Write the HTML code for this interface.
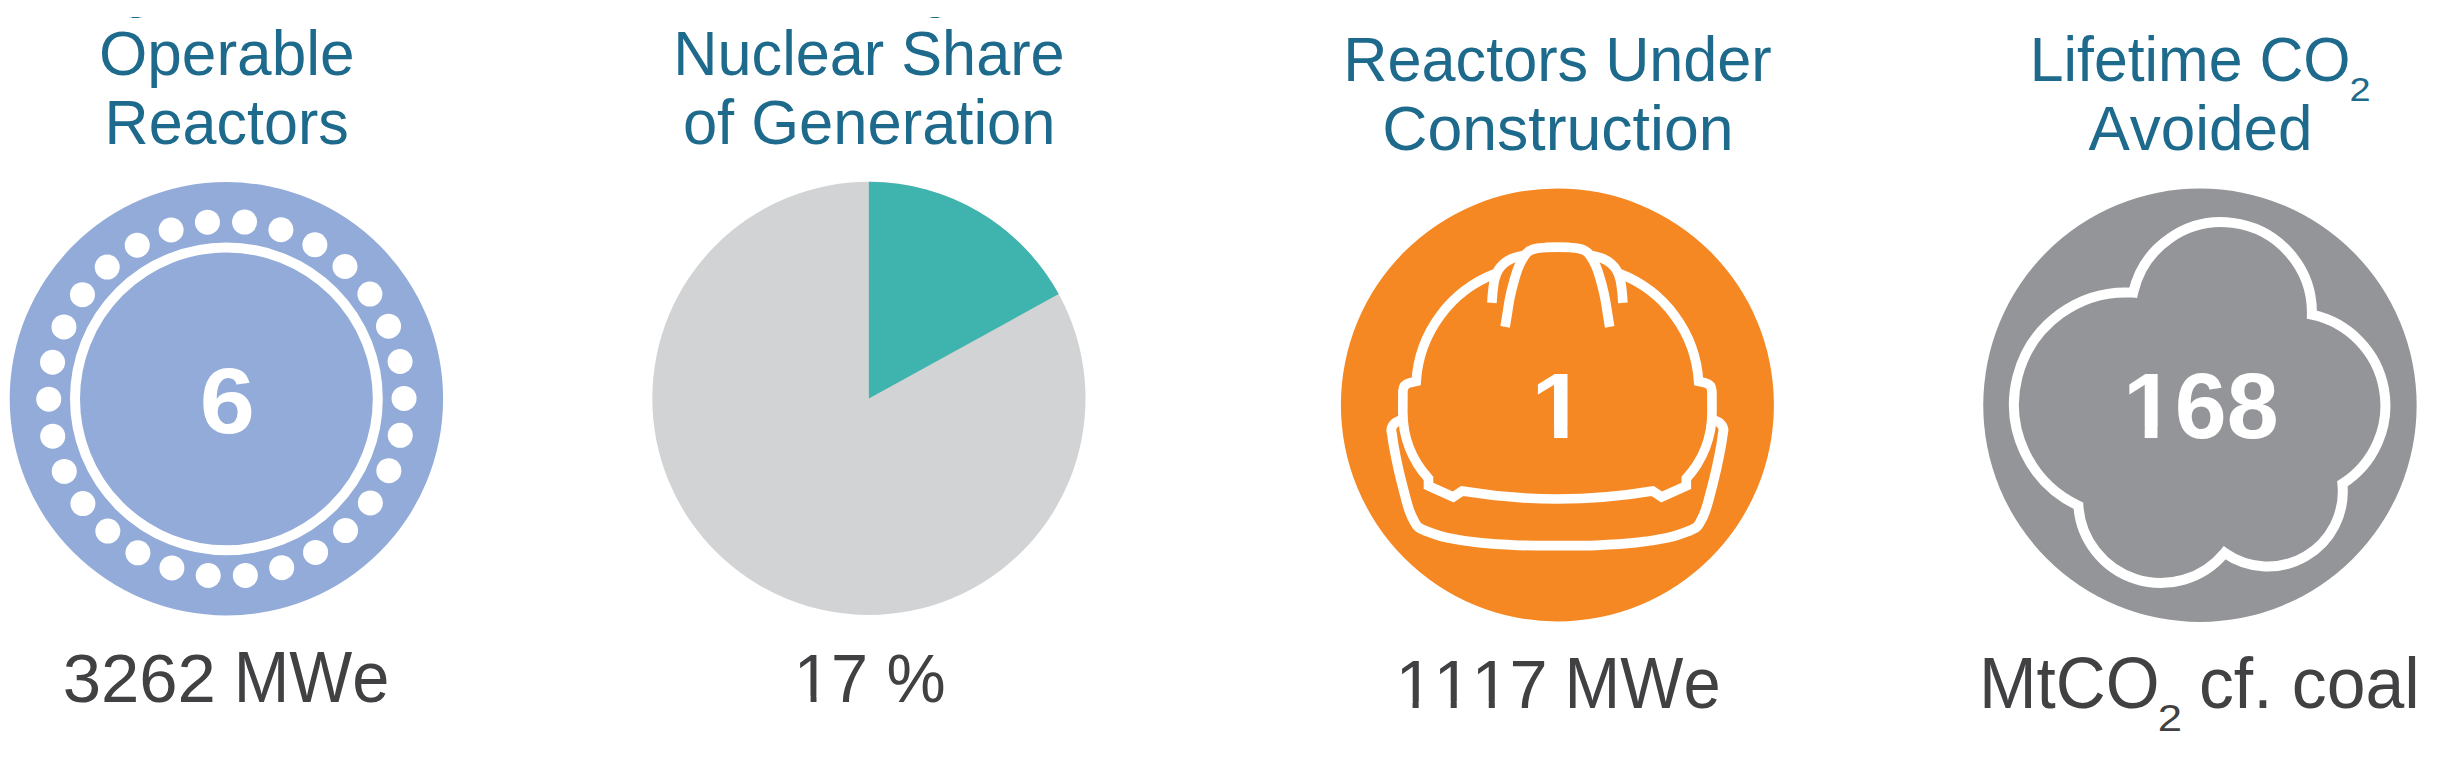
<!DOCTYPE html>
<html lang="en"><head><meta charset="utf-8"><title>Nuclear power summary</title>
<style>
html,body{margin:0;padding:0;background:#fff;}
body{width:2456px;height:761px;overflow:hidden;}
svg{display:block;}
text{font-family:"Liberation Sans",Arial,Helvetica,sans-serif;font-kerning:none;}
</style></head><body>
<svg width="2456" height="761" viewBox="0 0 2456 761">
<rect width="2456" height="761" fill="#fff"/>

<defs><clipPath id="c-b2"><path clip-rule="evenodd" d="M0 0H2456V761H0ZM796.93 695.73H810.60V703.8H796.93ZM816.48 695.73H829.64V703.8H816.48Z"/></clipPath><clipPath id="c-b3d"><path clip-rule="evenodd" d="M0 0H2456V761H0ZM1398.60 701.43H1412.60V709.5H1398.60ZM1418.65 701.43H1432.12V709.5H1418.65ZM1436.68 701.43H1450.68V709.5H1436.68ZM1456.73 701.43H1470.20V709.5H1456.73ZM1474.76 701.43H1488.76V709.5H1474.76ZM1494.81 701.43H1508.28V709.5H1494.81Z"/></clipPath><clipPath id="c-n3"><path clip-rule="evenodd" d="M0 0H2456V761H0ZM1535.46 427.59H1554.10V440.0H1535.46ZM1567.50 427.59H1584.90V440.0H1567.50Z"/></clipPath><clipPath id="c-n4"><path clip-rule="evenodd" d="M0 0H2456V761H0ZM2126.79 427.49H2144.70V439.9H2126.79ZM2157.51 427.49H2174.23V439.9H2157.51Z"/></clipPath></defs>
<g id="p1"><circle cx="226.4" cy="398.8" r="216.7" fill="#93abd9"/>
<circle cx="226.4" cy="398.8" r="151.4" fill="none" stroke="#fff" stroke-width="10"/>
<circle cx="404.05" cy="398.40" r="12.5" fill="#fff"/>
<circle cx="400.08" cy="361.47" r="12.5" fill="#fff"/>
<circle cx="388.53" cy="326.18" r="12.5" fill="#fff"/>
<circle cx="369.88" cy="294.05" r="12.5" fill="#fff"/>
<circle cx="344.97" cy="266.51" r="12.5" fill="#fff"/>
<circle cx="314.88" cy="244.75" r="12.5" fill="#fff"/>
<circle cx="280.91" cy="229.72" r="12.5" fill="#fff"/>
<circle cx="244.57" cy="222.08" r="12.5" fill="#fff"/>
<circle cx="207.43" cy="222.17" r="12.5" fill="#fff"/>
<circle cx="171.12" cy="229.97" r="12.5" fill="#fff"/>
<circle cx="137.23" cy="245.15" r="12.5" fill="#fff"/>
<circle cx="107.23" cy="267.05" r="12.5" fill="#fff"/>
<circle cx="82.44" cy="294.71" r="12.5" fill="#fff"/>
<circle cx="63.95" cy="326.91" r="12.5" fill="#fff"/>
<circle cx="52.55" cy="362.26" r="12.5" fill="#fff"/>
<circle cx="48.75" cy="399.20" r="12.5" fill="#fff"/>
<circle cx="52.72" cy="436.13" r="12.5" fill="#fff"/>
<circle cx="64.27" cy="471.42" r="12.5" fill="#fff"/>
<circle cx="82.92" cy="503.55" r="12.5" fill="#fff"/>
<circle cx="107.83" cy="531.09" r="12.5" fill="#fff"/>
<circle cx="137.92" cy="552.85" r="12.5" fill="#fff"/>
<circle cx="171.89" cy="567.88" r="12.5" fill="#fff"/>
<circle cx="208.23" cy="575.52" r="12.5" fill="#fff"/>
<circle cx="245.37" cy="575.43" r="12.5" fill="#fff"/>
<circle cx="281.68" cy="567.63" r="12.5" fill="#fff"/>
<circle cx="315.57" cy="552.45" r="12.5" fill="#fff"/>
<circle cx="345.57" cy="530.55" r="12.5" fill="#fff"/>
<circle cx="370.36" cy="502.89" r="12.5" fill="#fff"/>
<circle cx="388.85" cy="470.69" r="12.5" fill="#fff"/>
<circle cx="400.25" cy="435.34" r="12.5" fill="#fff"/>
</g>
<g id="p2"><circle cx="868.9" cy="398.4" r="216.6" fill="#d1d3d4"/>
<path d="M868.9 398.4L868.9 181.79999999999998A216.6 216.6 0 0 1 1058.71 294.05Z" fill="#3fb4ae"/></g>
<g id="p3"><circle cx="1557.4" cy="404.9" r="216.5" fill="#f58823"/>
<g fill="none" stroke="#fff" stroke-width="9.6" stroke-linejoin="miter" stroke-linecap="butt">
<path d="M1495.5 273.6A123.65 123.65 0 0 0 1416.2 381.3L1409.5 382.9Q1403.2 384.4 1402.9 391.2L1402.8 412.2A98.3 98.3 0 0 0 1428.5 478.6L1428.5 485.9L1453.2 497.0L1462.1 491.0A579.7 579.7 0 0 0 1652.7 491.0L1661.6 497.0L1686.3 485.9L1686.3 478.6A98.3 98.3 0 0 0 1712.0 412.2L1711.9 391.2Q1711.6 384.4 1705.3 382.9L1698.6 381.3A123.65 123.65 0 0 0 1619.3 273.6"/>
<path d="M1403.0 420.3C1402.4 420.4 1400.8 420.2 1399.5 420.6C1398.2 421.0 1396.5 421.8 1395.4 422.6C1394.3 423.4 1393.4 424.5 1392.7 425.6C1392.0 426.8 1391.4 427.9 1391.3 429.5C1391.2 431.1 1391.8 432.9 1392.2 435.5C1392.6 438.1 1392.6 439.4 1393.6 445.0C1394.6 450.6 1396.5 460.7 1398.4 469.0C1400.3 477.3 1403.0 487.8 1404.8 494.8C1406.6 501.8 1407.9 506.6 1409.5 511.0C1411.1 515.4 1412.6 518.5 1414.2 521.3C1415.8 524.1 1416.3 525.8 1418.9 527.6C1421.5 529.4 1424.9 530.6 1429.6 532.3C1434.3 534.0 1439.1 536.0 1447.3 537.7C1455.5 539.4 1467.1 541.4 1478.9 542.7C1490.7 544.0 1505.2 544.8 1518.3 545.3C1531.4 545.8 1544.4 545.7 1557.4 545.7C1570.4 545.7 1583.4 545.8 1596.5 545.3C1609.6 544.8 1624.1 544.0 1635.9 542.7C1647.7 541.4 1659.3 539.4 1667.5 537.7C1675.7 536.0 1680.5 534.0 1685.2 532.3C1689.9 530.6 1693.3 529.4 1695.9 527.6C1698.5 525.8 1699.0 524.1 1700.6 521.3C1702.2 518.5 1703.7 515.4 1705.3 511.0C1706.9 506.6 1708.2 501.8 1710.0 494.8C1711.9 487.8 1714.5 477.3 1716.4 469.0C1718.3 460.7 1720.2 450.6 1721.2 445.0C1722.2 439.4 1722.2 438.1 1722.6 435.5C1723.0 432.9 1723.6 431.1 1723.5 429.5C1723.4 427.9 1722.8 426.8 1722.1 425.6C1721.4 424.5 1720.5 423.4 1719.4 422.6C1718.3 421.8 1716.6 421.0 1715.3 420.6C1714.0 420.2 1712.4 420.4 1711.8 420.3" stroke-width="9.8"/>
<path d="M1505.1 326.9C1505.4 324.9 1506.2 320.3 1507.0 315.4C1507.8 310.4 1508.8 303.0 1510.0 297.3C1511.1 291.6 1512.5 286.3 1514.0 281.1C1515.4 275.9 1517.1 270.4 1519.0 266.1C1520.8 261.7 1523.3 257.4 1525.2 254.8C1527.1 252.2 1528.4 251.5 1530.2 250.5C1532.0 249.4 1533.5 249.0 1536.2 248.5C1538.8 248.0 1542.6 247.7 1546.2 247.4C1549.7 247.2 1553.7 247.1 1557.4 247.1C1561.2 247.1 1565.1 247.2 1568.7 247.4C1572.2 247.7 1576.0 248.0 1578.6 248.5C1581.3 249.0 1582.8 249.4 1584.6 250.5C1586.5 251.5 1587.7 252.2 1589.6 254.8C1591.5 257.4 1594.0 261.7 1595.9 266.1C1597.7 270.4 1599.4 275.9 1600.9 281.1C1602.3 286.3 1603.7 291.6 1604.8 297.3C1606.0 303.0 1607.0 310.4 1607.8 315.4C1608.6 320.3 1609.4 324.9 1609.7 326.9"/>
<path d="M1526.3 254.7C1525.1 255.0 1521.7 255.6 1519.3 256.3C1516.9 257.0 1514.4 257.5 1511.8 258.7C1509.2 259.9 1506.0 261.7 1503.7 263.6C1501.4 265.6 1499.6 267.8 1498.1 270.4C1496.6 273.0 1495.6 275.9 1494.7 279.2C1493.8 282.5 1493.4 286.4 1492.9 290.4C1492.4 294.3 1492.1 300.8 1491.9 302.9M1588.5 254.7C1589.7 255.0 1593.1 255.6 1595.5 256.3C1597.9 257.0 1600.4 257.5 1603.0 258.7C1605.6 259.9 1608.8 261.7 1611.1 263.6C1613.4 265.6 1615.2 267.8 1616.7 270.4C1618.2 273.0 1619.2 275.9 1620.1 279.2C1621.0 282.5 1621.4 286.4 1621.9 290.4C1622.4 294.3 1622.7 300.8 1622.9 302.9"/>
</g>
</g>
<g id="p4"><circle cx="2199.95" cy="405.2" r="216.7" fill="#939598"/>
<path d="M2133.15 292.63A90.5 90.5 0 0 1 2311.88 314.72A92.8 92.8 0 0 1 2342.40 483.80A75.0 75.0 0 0 1 2224.63 552.83A82.6 82.6 0 0 1 2078.37 505.77A112.0 112.0 0 0 1 2133.15 292.63Z" fill="none" stroke="#fff" stroke-width="10" stroke-linejoin="miter" stroke-miterlimit="10"/>
</g>
<text transform="translate(98.96 74.5) scale(0.9895 1)" font-size="62.8" fill="#1d6a8c">Operable</text>
<text transform="translate(104.57 143.6) scale(0.9719 1)" font-size="62.8" fill="#1d6a8c">Reactors</text>
<text transform="translate(673.35 74.6) scale(0.9749 1)" font-size="62.8" fill="#1d6a8c">Nuclear Share</text>
<text transform="translate(682.92 143.6) scale(0.9792 1)" font-size="62.8" fill="#1d6a8c">of Generation</text>
<text transform="translate(1343.36 80.9) scale(0.9743 1)" font-size="62.8" fill="#1d6a8c">Reactors Under</text>
<text transform="translate(1382.19 149.8) scale(0.9966 1)" font-size="62.8" fill="#1d6a8c">Construction</text>
<text transform="translate(2029.69 80.9) scale(0.9680 1)" font-size="62.8" fill="#1d6a8c">Lifetime CO</text>
<text transform="translate(2349.61 101.3) scale(1.1189 1)" font-size="33.9" fill="#1d6a8c">2</text>
<text transform="translate(2088.38 149.8) scale(0.9880 1)" font-size="62.8" fill="#1d6a8c">Avoided</text>
<text transform="translate(62.69 701.6) scale(0.9956 1)" font-size="69.2" fill="#414042">3262</text>
<text transform="translate(233.73 701.6) scale(0.9341 1)" font-size="71.4" fill="#414042">MWe</text>
<g clip-path="url(#c-b2)"><text transform="translate(793.86 701.8) scale(0.9622 1)" font-size="69.2" fill="#414042">17 %</text></g>
<g clip-path="url(#c-b3d)"><text transform="translate(1395.38 707.5) scale(0.9895 1)" font-size="69.2" fill="#414042">1117</text></g>
<text transform="translate(1564.61 707.5) scale(0.9367 1)" font-size="71.4" fill="#414042">MWe</text>
<text transform="translate(1978.92 708.3) scale(0.9701 1)" font-size="71.4" fill="#414042">MtCO</text>
<text transform="translate(2157.64 730.7) scale(1.1607 1)" font-size="37.6" fill="#414042">2</text>
<text transform="translate(2198.92 708.3) scale(0.9763 1)" font-size="71.4" fill="#414042">cf. coal</text>
<text transform="translate(199.84 433.3) scale(1.0638 1)" font-size="93.2" font-weight="700" fill="#fff">6</text>
<g clip-path="url(#c-n3)"><text transform="translate(1531.31 438.0) scale(1.0479 1)" font-size="93.2" font-weight="700" fill="#fff">1</text></g>
<g clip-path="url(#c-n4)"><text transform="translate(2122.91 437.9) scale(1.0017 1)" font-size="93.2" font-weight="700" fill="#fff">168</text></g>
<rect x="129" y="17" width="13.2" height="1" fill="#1d6a8c" opacity=".22"/>
<rect x="131.8" y="17" width="7.6" height="1" fill="#1d6a8c"/>
<rect x="928.8" y="17" width="12.5" height="1" fill="#1d6a8c" opacity=".22"/>
<rect x="931.4" y="17" width="7.3" height="1" fill="#1d6a8c"/>
</svg></body></html>
